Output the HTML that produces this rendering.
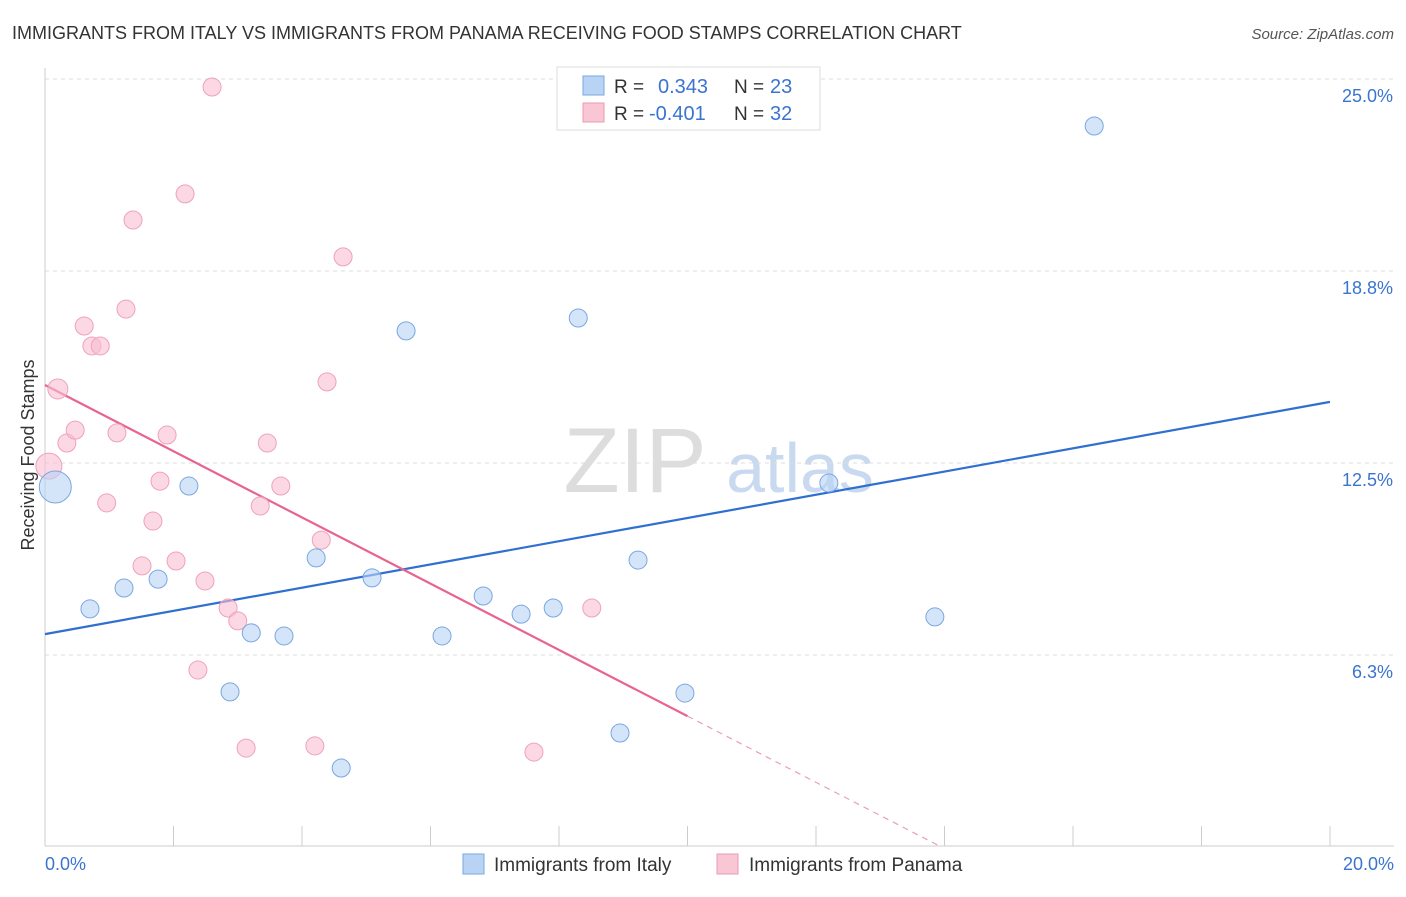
<!DOCTYPE html>
<html><head><meta charset="utf-8"><style>
body{margin:0;background:#fff;font-family:"Liberation Sans",sans-serif}
svg text{font-family:"Liberation Sans",sans-serif}
</style></head><body>
<svg id="c" width="1406" height="892" xmlns="http://www.w3.org/2000/svg">
<text x="12" y="39" font-size="18" fill="#333">IMMIGRANTS FROM ITALY VS IMMIGRANTS FROM PANAMA RECEIVING FOOD STAMPS CORRELATION CHART</text>
<text x="1394" y="39" font-size="15" fill="#555" font-style="italic" text-anchor="end">Source: ZipAtlas.com</text>
<text x="635" y="492" font-size="92" fill="#ddd" font-family="Liberation Serif" text-anchor="middle">ZIP</text>
<text x="800" y="492" font-size="70" fill="#c9daf0" text-anchor="middle">atlas</text>
<text transform="translate(34,455) rotate(-90)" font-size="18" fill="#333" text-anchor="middle">Receiving Food Stamps</text>
<g id="grid"></g><g id="trend"></g><g id="pts"></g>
<g>
<rect x="557" y="67" width="263" height="63" fill="#fff" stroke="#ddd"/>
<rect x="583" y="76" width="21" height="19" fill="#b9d3f5" stroke="#7aa7e0"/>
<rect x="583" y="103" width="21" height="19" fill="#f9c6d5" stroke="#ec9ab3"/>
<text x="614" y="93" font-size="19" fill="#333">R =</text><text x="658" y="93" font-size="20" fill="#3a74d0">0.343</text>
<text x="734" y="93" font-size="19" fill="#333">N =</text><text x="770" y="93" font-size="20" fill="#3a74d0">23</text>
<text x="614" y="120" font-size="19" fill="#333">R =</text><text x="649" y="120" font-size="20" fill="#3a74d0">-0.401</text>
<text x="734" y="120" font-size="19" fill="#333">N =</text><text x="770" y="120" font-size="20" fill="#3a74d0">32</text>
</g>
<g>
<rect x="463" y="854" width="21" height="20" fill="#b9d3f5" stroke="#7aa7e0"/>
<text x="494" y="871" font-size="19" fill="#333">Immigrants from Italy</text>
<rect x="717" y="854" width="21" height="20" fill="#f9c6d5" stroke="#ec9ab3"/>
<text x="749" y="871" font-size="19" fill="#333">Immigrants from Panama</text>
</g>
</svg>
<script>
const yTicks=[6.25,12.5,18.75,25];
const yTickLabels=["6.3%","12.5%","18.8%","25.0%"];
const xTickLabels=["0.0%","20.0%"];
const italyX=[0.16,0.70,1.23,1.76,2.24,2.88,3.21,3.72,4.22,4.61,5.09,5.62,6.18,6.82,7.41,7.91,8.30,8.95,9.23,9.96,12.20,13.85,16.33];
const italyY=[11.72,7.75,8.43,8.72,11.75,5.05,6.97,6.87,9.41,2.57,8.76,16.80,6.87,8.17,7.58,7.78,17.22,3.71,9.34,5.01,11.85,7.49,23.47];
const italySize=[16,9,9,9,9,9,9,9,9,9,9,9,9,9,9,9,9,9,9,9,9,9,9];
const panamaX=[0.06,0.20,0.34,0.47,0.61,0.73,0.86,0.96,1.12,1.26,1.37,1.51,1.68,1.79,1.90,2.04,2.18,2.38,2.49,2.60,2.85,3.00,3.13,3.35,3.46,3.67,4.20,4.30,4.39,4.64,7.61,8.51];
const panamaY=[12.40,14.91,13.15,13.57,16.96,16.31,16.31,11.20,13.48,17.51,20.41,9.15,10.61,11.91,13.41,9.31,21.26,5.76,8.66,24.74,7.78,7.36,3.22,11.10,13.15,11.75,3.29,9.99,15.14,19.21,3.09,7.78];
const panamaSize=[13,10,9,9,9,9,9,9,9,9,9,9,9,9,9,9,9,9,9,9,9,9,9,9,9,9,9,9,9,9,9,9];
const italyTrend=[6.93,14.49];   // y at x=0, x=20
const panamaTrend=[15.04,-1.078]; // intercept, slope
const X=v=>45+v*64.25, Y=v=>847-v*30.72;
const NS="http://www.w3.org/2000/svg";
function mk(t,a,p){const e=document.createElementNS(NS,t);for(const k in a)e.setAttribute(k,a[k]);p.appendChild(e);return e;}
const g=document.getElementById('grid');
yTicks.forEach((t,i)=>{
 const l=mk('line',{x1:45,x2:1394,y1:Y(t),y2:Y(t),stroke:'#ddd','stroke-dasharray':'4,4'},g);
 
 const tx=mk('text',{x:1393,y:Y(t)+23,'font-size':18,fill:'#3a74d0','text-anchor':'end'},g);tx.textContent=yTickLabels[i];
 
});
mk('line',{x1:45,x2:45,y1:68,y2:846,stroke:'#ccc'},g);
mk('line',{x1:45,x2:1394,y1:846,y2:846,stroke:'#ccc'},g);
for(let i=0;i<=10;i++){const t=mk('line',{x1:X(i*2),x2:X(i*2),y1:826,y2:846,stroke:'#ccc'},g);}
[[0,'start',45],[20,'end',1394]].forEach((d,i)=>{const t=mk('text',{x:d[2],y:870,'font-size':18,fill:'#3a74d0','text-anchor':d[1]},g);t.textContent=xTickLabels[i];});
const tr=document.getElementById('trend');
const bl=mk('line',{x1:X(0),y1:Y(italyTrend[0]),x2:X(20),y2:Y(italyTrend[1]),stroke:'#2f6fd0','stroke-width':2.2},tr);

const pf=x=>panamaTrend[0]+panamaTrend[1]*x;
const pl=mk('line',{x1:X(0),y1:Y(pf(0)),x2:X(10),y2:Y(pf(10)),stroke:'#e8648f','stroke-width':2.2},tr);

const pd=mk('line',{x1:X(10),y1:Y(pf(10)),x2:X(13.95),y2:Y(pf(13.95)),stroke:'#e8a0b8','stroke-width':1.2,'stroke-dasharray':'6,5'},tr);

const pg=document.getElementById('pts');
panamaX.forEach((x,i)=>{const c=mk('circle',{cx:X(x),cy:Y(panamaY[i]),r:panamaSize[i],fill:'rgba(249,190,208,0.6)',stroke:'#eea3bb','stroke-width':1},pg);
 });
italyX.forEach((x,i)=>{const c=mk('circle',{cx:X(x),cy:Y(italyY[i]),r:italySize[i],fill:'rgba(185,211,245,0.6)',stroke:'#7aa7e0','stroke-width':1},pg);
 });
</script>
</body></html>
